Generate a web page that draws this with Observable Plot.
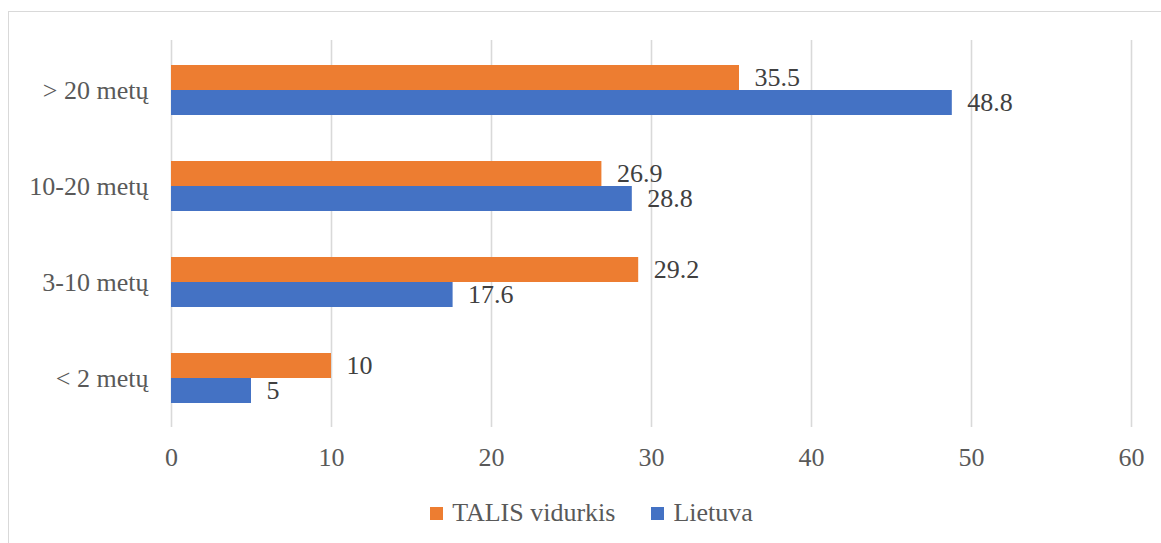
<!DOCTYPE html>
<html>
<head>
<meta charset="utf-8">
<script src="https://cdn.jsdelivr.net/npm/d3@7"></script>
<script src="https://cdn.jsdelivr.net/npm/@observablehq/plot@0.6"></script>
<style>
  html, body { margin: 0; padding: 0; background: #fff; }
  #wrap, #wrap * { font-family: 'Liberation Serif', 'Times New Roman', Tinos, serif !important; }
</style>
</head>
<body>
<div id="wrap" style="position:relative;width:1161px;height:543px;overflow:hidden;">
  <div id="frame" style="position:absolute;left:8px;top:11px;width:1200px;height:600px;border-left:1.5px solid #d9d9d9;border-top:1.5px solid #d9d9d9;"></div>
  <div id="chart" style="position:absolute;left:0;top:0;"></div>
  <div id="legend" style="position:absolute;left:0;top:490px;width:1161px;height:46px;box-sizing:border-box;padding-left:22px;display:flex;justify-content:center;align-items:center;font-size:26px;color:#595959;"></div>
</div>
<script>
const categories = ["> 20 metų", "10-20 metų", "3-10 metų", "< 2 metų"];
const seriesNames = ["TALIS vidurkis", "Lietuva"];
const talisValues = [35.5, 26.9, 29.2, 10];
const lietuvaValues = [48.8, 28.8, 17.6, 5];
const xTicks = [0, 10, 20, 30, 40, 50, 60];
const colors = ["#ED7D31", "#4472C4"];

const FONT = "Liberation Serif";
const talis = categories.map((c, i) => ({cat: c, value: talisValues[i], series: seriesNames[0]}));
const lt = categories.map((c, i) => ({cat: c, value: lietuvaValues[i], series: seriesNames[1]}));

const half = 25;
const chart = Plot.plot({
  width: 1161,
  height: 490,
  marginLeft: 171,
  marginRight: 30,
  marginTop: 40,
  marginBottom: 63,
  style: { fontFamily: "'Liberation Serif', serif", fontSize: "26px", color: "#595959", background: "transparent" },
  x: { domain: [0, 60], ticks: xTicks, tickSize: 0, tickPadding: 20, label: null, tickFormat: d => String(d) },
  y: { domain: categories, paddingInner: 0.483, paddingOuter: 0.2415, tickSize: 0, tickPadding: 23, label: null },
  color: { domain: seriesNames, range: colors },
  marks: [
    Plot.ruleX(xTicks, { stroke: "#d9d9d9", strokeWidth: 1.6, strokeOpacity: 1 }),
    Plot.barX(talis, { x: "value", y: "cat", fill: "series", insetBottom: half }),
    Plot.barX(lt, { x: "value", y: "cat", fill: "series", insetTop: half }),
    Plot.text(talis, { x: "value", y: "cat", text: d => String(d.value), dx: 15, dy: -13, textAnchor: "start", fill: "#404040", fontSize: 26, fontFamily: FONT }),
    Plot.text(lt, { x: "value", y: "cat", text: d => String(d.value), dx: 15, dy: 12, textAnchor: "start", fill: "#404040", fontSize: 26, fontFamily: FONT }),
    Plot.axisX({ ticks: xTicks, tickSize: 0, tickPadding: 20, label: null, fill: "#595959", fontSize: 26, fontFamily: FONT }),
    Plot.axisY({ tickSize: 0, tickPadding: 23, label: null, fill: "#595959", fontSize: 26, fontFamily: FONT })
  ]
});
document.getElementById("chart").appendChild(chart);

const legend = document.getElementById("legend");
seriesNames.forEach((s, i) => {
  const it = document.createElement("div");
  it.style.cssText = "display:flex;align-items:center;margin:0 18px;";
  const sw = document.createElement("div");
  sw.style.cssText = "width:13px;height:13px;margin-right:9px;background:" + colors[i] + ";";
  const t = document.createElement("span");
  t.textContent = s;
  it.appendChild(sw);
  it.appendChild(t);
  legend.appendChild(it);
});
</script>
</body>
</html>
